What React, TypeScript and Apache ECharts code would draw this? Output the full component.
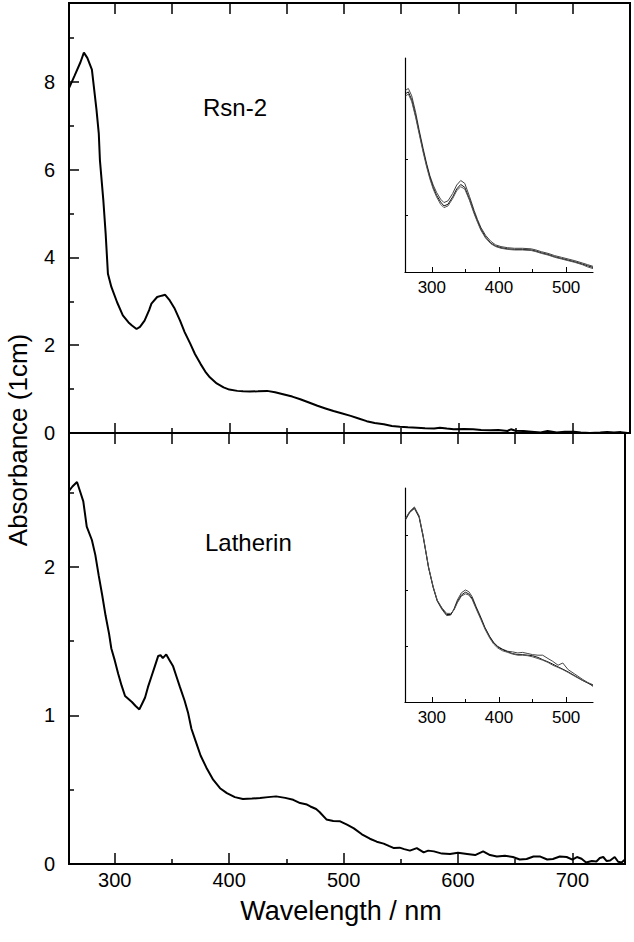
import React, { useEffect, useRef } from "react";
import * as echarts from "echarts";

const FONT = "'Liberation Sans', Arial, Helvetica, sans-serif";

// ---------- Main panel data ----------
const rsnWavelength = [260,265,270,273,276,280,284,286,287,290,292,294,297,302,307,312,315,319,322,326,330,332,337,341,344,348,352,357,361,366,370,375,379,383,389,395,400,407,412,418,425,433,440,447,455,462,469,477,484,491,498,506,513,520,527,535,542,549,556,564,571,579,584,590,596,605,613,620,628,635,643,646,650,657,664,672,678,686,693,701,707,715,724,730,736,742,748];
const rsnAbsorbance = [7.86,8.15,8.45,8.67,8.55,8.28,7.37,6.83,6.22,5.3,4.55,3.63,3.33,2.98,2.68,2.52,2.45,2.37,2.42,2.56,2.8,2.95,3.1,3.13,3.15,3.02,2.85,2.56,2.3,2.03,1.8,1.57,1.4,1.27,1.13,1.04,0.99,0.96,0.95,0.945,0.95,0.96,0.93,0.885,0.83,0.77,0.7,0.62,0.56,0.5,0.45,0.39,0.33,0.27,0.23,0.2,0.16,0.14,0.13,0.12,0.11,0.1,0.12,0.1,0.085,0.09,0.085,0.07,0.06,0.07,0.046,0.085,0.05,0.046,0.03,0.01,0.046,0.01,0.03,0.03,0.01,0,0.01,0.02,0.01,0.02,0];

const latWavelength = [259,263,267,270,272.5,275.5,280,283,286,289,292,295,297,300,303,306,309,312,315,318,321.5,324,326.5,329,332,335,338,340,342,345,348,351,354,357,361,364,367,371,375,380,386,392,398,405,412,420,427,434,441,449,456,462,468,471,476,479,485,491,497,503,509,516,523,529,535,540,544,549,553,558,564,570,574,579,586,593,600,608,615,622,628,634,641,648,654,660,666,672,678,683,689,695,700,704,708,712,717,721,724,727,730,733,737,740,743,746];
const latAbsorbance = [2.5,2.54,2.57,2.5,2.44,2.27,2.18,2.08,1.94,1.81,1.67,1.55,1.45,1.37,1.28,1.2,1.13,1.11,1.09,1.065,1.04,1.08,1.12,1.19,1.26,1.33,1.4,1.405,1.385,1.41,1.37,1.33,1.26,1.19,1.1,1.02,0.91,0.82,0.73,0.65,0.567,0.51,0.477,0.45,0.437,0.44,0.444,0.45,0.455,0.445,0.432,0.41,0.4,0.387,0.37,0.35,0.3,0.29,0.287,0.265,0.24,0.2,0.17,0.15,0.137,0.12,0.107,0.11,0.1,0.09,0.107,0.078,0.09,0.085,0.07,0.067,0.075,0.067,0.06,0.085,0.06,0.05,0.055,0.047,0.03,0.034,0.05,0.05,0.03,0.034,0.05,0.047,0.03,0.047,0.035,0.01,0.02,0.017,0.04,0.047,0.02,0.024,0.047,0.015,0.01,0.03];

// ---------- Inset data (three overlaid spectra each) ----------
const rsnInsetWavelength = [261,265,270,276,281,287,292,297,302,307,313,318,324,331,337,343,349,356,363,368,373,380,388,395,403,413,423,435,448,455,463,473,483,493,503,513,524,532,540];
const rsnInsetA = [3.22,3.25,3.12,2.82,2.52,2.19,1.93,1.71,1.54,1.41,1.29,1.23,1.26,1.39,1.54,1.62,1.57,1.34,1.09,0.93,0.79,0.65,0.54,0.48,0.45,0.43,0.42,0.42,0.41,0.39,0.36,0.33,0.29,0.26,0.23,0.2,0.16,0.13,0.1];
const rsnInsetB = [3.16,3.19,3.05,2.76,2.48,2.15,1.9,1.68,1.5,1.36,1.24,1.17,1.2,1.33,1.47,1.55,1.5,1.29,1.05,0.9,0.76,0.62,0.51,0.46,0.43,0.41,0.4,0.4,0.39,0.37,0.34,0.31,0.27,0.24,0.21,0.18,0.14,0.11,0.08];
const rsnInsetC = [3.12,3.15,3.02,2.73,2.45,2.12,1.87,1.65,1.47,1.33,1.2,1.14,1.17,1.3,1.44,1.51,1.47,1.27,1.03,0.88,0.74,0.6,0.5,0.45,0.42,0.4,0.39,0.39,0.38,0.36,0.33,0.3,0.26,0.23,0.2,0.17,0.13,0.09,0.06];

const latInsetWavelength = [261,267,274,281,287,291,295,302,308,315,322,328,333,338,344,350,355,360,366,373,379,386,392,398,405,413,420,428,435,443,450,458,465,473,480,488,495,503,513,524,532,540];
const latInsetA = [3.27,3.4,3.47,3.31,2.96,2.69,2.41,2.05,1.81,1.66,1.55,1.56,1.67,1.83,1.96,2.01,1.98,1.89,1.71,1.52,1.34,1.18,1.07,1.0,0.95,0.91,0.9,0.88,0.89,0.87,0.85,0.84,0.84,0.78,0.73,0.66,0.7,0.58,0.5,0.41,0.35,0.28];
const latInsetB = [3.29,3.41,3.49,3.33,2.98,2.7,2.42,2.06,1.82,1.68,1.57,1.57,1.66,1.8,1.92,1.97,1.94,1.86,1.69,1.5,1.33,1.17,1.06,0.99,0.94,0.9,0.87,0.85,0.85,0.84,0.83,0.8,0.76,0.72,0.68,0.63,0.59,0.54,0.47,0.39,0.34,0.3];
const latInsetC = [3.3,3.42,3.5,3.34,2.99,2.71,2.43,2.07,1.83,1.69,1.59,1.59,1.65,1.78,1.9,1.94,1.92,1.84,1.67,1.48,1.31,1.15,1.04,0.97,0.92,0.89,0.86,0.84,0.84,0.83,0.81,0.78,0.75,0.71,0.66,0.62,0.58,0.53,0.46,0.39,0.35,0.31];

// ---------- Tick values ----------
const mainXMajor = [300, 400, 500, 600, 700];
const mainXMinor = [350, 450, 550, 650];
const mainXTop = [300, 350, 400, 450, 500, 550, 600, 650, 700];
const rsnYMajor = [0, 2, 4, 6, 8];
const rsnYMinor = [1, 3, 5, 7, 9];
const latYMajor = [0, 1, 2];
const latYMinor = [0.5, 1.5, 2.5];
const insetXMajor = [300, 400, 500];
const insetXMinor = [350, 450];
const rsnInsetYTicks = [1, 2];
const latInsetYTicks = [1, 2, 3];

const pairs = (xs: number[], ys: number[]) => xs.map((x, i) => [x, ys[i]]);

type AxOpt = {
  grid: number; min: number; max: number; pos: string;
  ticks: number[]; len: number; tw?: number;
  labels?: number[]; fs?: number; margin?: number;
  line?: boolean; lw?: number;
};
const ax = (o: AxOpt) => ({
  type: "value",
  gridIndex: o.grid,
  min: o.min,
  max: o.max,
  position: o.pos,
  splitLine: { show: false },
  axisLine: { show: !!o.line, onZero: false, lineStyle: { color: "#000", width: o.lw ?? 1 } },
  axisTick: { show: true, inside: true, length: o.len, customValues: o.ticks, lineStyle: { color: "#000", width: o.tw ?? 1.5 } },
  axisLabel: o.labels
    ? { show: true, customValues: o.labels, fontSize: o.fs, fontFamily: FONT, color: "#000", margin: o.margin }
    : { show: false },
});

const insetLine = (x: number[], y: number[], xi: number, yi: number, color: string) => ({
  type: "line",
  xAxisIndex: xi,
  yAxisIndex: yi,
  data: pairs(x, y),
  showSymbol: false,
  symbol: "none",
  lineStyle: { color, width: 1 },
  silent: true,
});

export default function App() {
  const ref = useRef<HTMLDivElement>(null);
  useEffect(() => {
    if (!ref.current) return;
    const chart = echarts.init(ref.current, null, { renderer: "svg" });
    const option: any = {
      animation: false,
      backgroundColor: "#fff",
      grid: [
        { left: 69, top: 3, width: 561, height: 430, show: true, borderColor: "#000", borderWidth: 2, backgroundColor: "transparent" },
        { left: 69, top: 433, width: 556, height: 431, show: true, borderColor: "#000", borderWidth: 2, backgroundColor: "transparent" },
        { left: 405, top: 58, width: 188, height: 214 },
        { left: 405, top: 488, width: 188, height: 214 },
      ],
      xAxis: [
        ax({ grid: 0, min: 260, max: 750, pos: "bottom", ticks: mainXMajor, len: 10 }),
        ax({ grid: 0, min: 260, max: 750, pos: "bottom", ticks: mainXMinor, len: 5 }),
        ax({ grid: 0, min: 260, max: 750, pos: "top", ticks: mainXTop, len: 11 }),
        ax({ grid: 1, min: 260, max: 746, pos: "bottom", ticks: mainXMajor, len: 11, labels: mainXMajor, fs: 20, margin: 6 }),
        ax({ grid: 1, min: 260, max: 746, pos: "bottom", ticks: mainXMinor, len: 5 }),
        ax({ grid: 1, min: 260, max: 746, pos: "top", ticks: mainXTop, len: 11 }),
        ax({ grid: 2, min: 260, max: 540, pos: "bottom", ticks: insetXMajor, len: 5, tw: 1, labels: insetXMajor, fs: 17, margin: 7, line: true, lw: 1.2 }),
        ax({ grid: 2, min: 260, max: 540, pos: "bottom", ticks: insetXMinor, len: 3, tw: 1 }),
        ax({ grid: 3, min: 260, max: 540, pos: "bottom", ticks: insetXMajor, len: 5, tw: 1, labels: insetXMajor, fs: 17, margin: 7, line: true, lw: 1.2 }),
        ax({ grid: 3, min: 260, max: 540, pos: "bottom", ticks: insetXMinor, len: 3, tw: 1 }),
      ],
      yAxis: [
        ax({ grid: 0, min: 0, max: 9.8, pos: "left", ticks: rsnYMajor, len: 10, labels: rsnYMajor, fs: 20, margin: 14 }),
        ax({ grid: 0, min: 0, max: 9.8, pos: "left", ticks: rsnYMinor, len: 5 }),
        ax({ grid: 1, min: 0, max: 2.9, pos: "left", ticks: latYMajor, len: 10, labels: latYMajor, fs: 20, margin: 14 }),
        ax({ grid: 1, min: 0, max: 2.9, pos: "left", ticks: latYMinor, len: 5 }),
        ax({ grid: 2, min: 0, max: 3.79, pos: "left", ticks: rsnInsetYTicks, len: 3, tw: 1, line: true, lw: 1.2 }),
        ax({ grid: 3, min: 0, max: 3.84, pos: "left", ticks: latInsetYTicks, len: 3, tw: 1, line: true, lw: 1.2 }),
      ],
      series: [
        {
          type: "line", name: "Rsn-2", xAxisIndex: 0, yAxisIndex: 0,
          data: pairs(rsnWavelength, rsnAbsorbance), showSymbol: false, symbol: "none",
          lineStyle: { color: "#000", width: 2 }, silent: true,
        },
        {
          type: "line", name: "Latherin", xAxisIndex: 3, yAxisIndex: 2,
          data: pairs(latWavelength, latAbsorbance), showSymbol: false, symbol: "none",
          lineStyle: { color: "#000", width: 2 }, silent: true,
        },
        insetLine(rsnInsetWavelength, rsnInsetA, 6, 4, "#444"),
        insetLine(rsnInsetWavelength, rsnInsetB, 6, 4, "#111"),
        insetLine(rsnInsetWavelength, rsnInsetC, 6, 4, "#555"),
        insetLine(latInsetWavelength, latInsetA, 8, 5, "#444"),
        insetLine(latInsetWavelength, latInsetB, 8, 5, "#111"),
        insetLine(latInsetWavelength, latInsetC, 8, 5, "#555"),
      ],
      graphic: [
        { type: "text", x: 203, y: 107, style: { text: "Rsn-2", fontSize: 24, fontFamily: FONT, fill: "#000", textAlign: "left", align: "left", textVerticalAlign: "middle", verticalAlign: "middle" } },
        { type: "text", x: 205, y: 542, style: { text: "Latherin", fontSize: 24, fontFamily: FONT, fill: "#000", textAlign: "left", align: "left", textVerticalAlign: "middle", verticalAlign: "middle" } },
        { type: "text", x: 18, y: 440, rotation: Math.PI / 2, style: { text: "Absorbance (1cm)", fontSize: 26, fontFamily: FONT, fill: "#000", textAlign: "center", align: "center", textVerticalAlign: "middle", verticalAlign: "middle" } },
        { type: "text", x: 341, y: 911, style: { text: "Wavelength / nm", fontSize: 27, fontFamily: FONT, fill: "#000", textAlign: "center", align: "center", textVerticalAlign: "middle", verticalAlign: "middle" } },
      ],
    };
    chart.setOption(option);
    return () => chart.dispose();
  }, []);
  return <div ref={ref} style={{ position: "absolute", left: 0, top: 0, width: 634, height: 942 }} />;
}
